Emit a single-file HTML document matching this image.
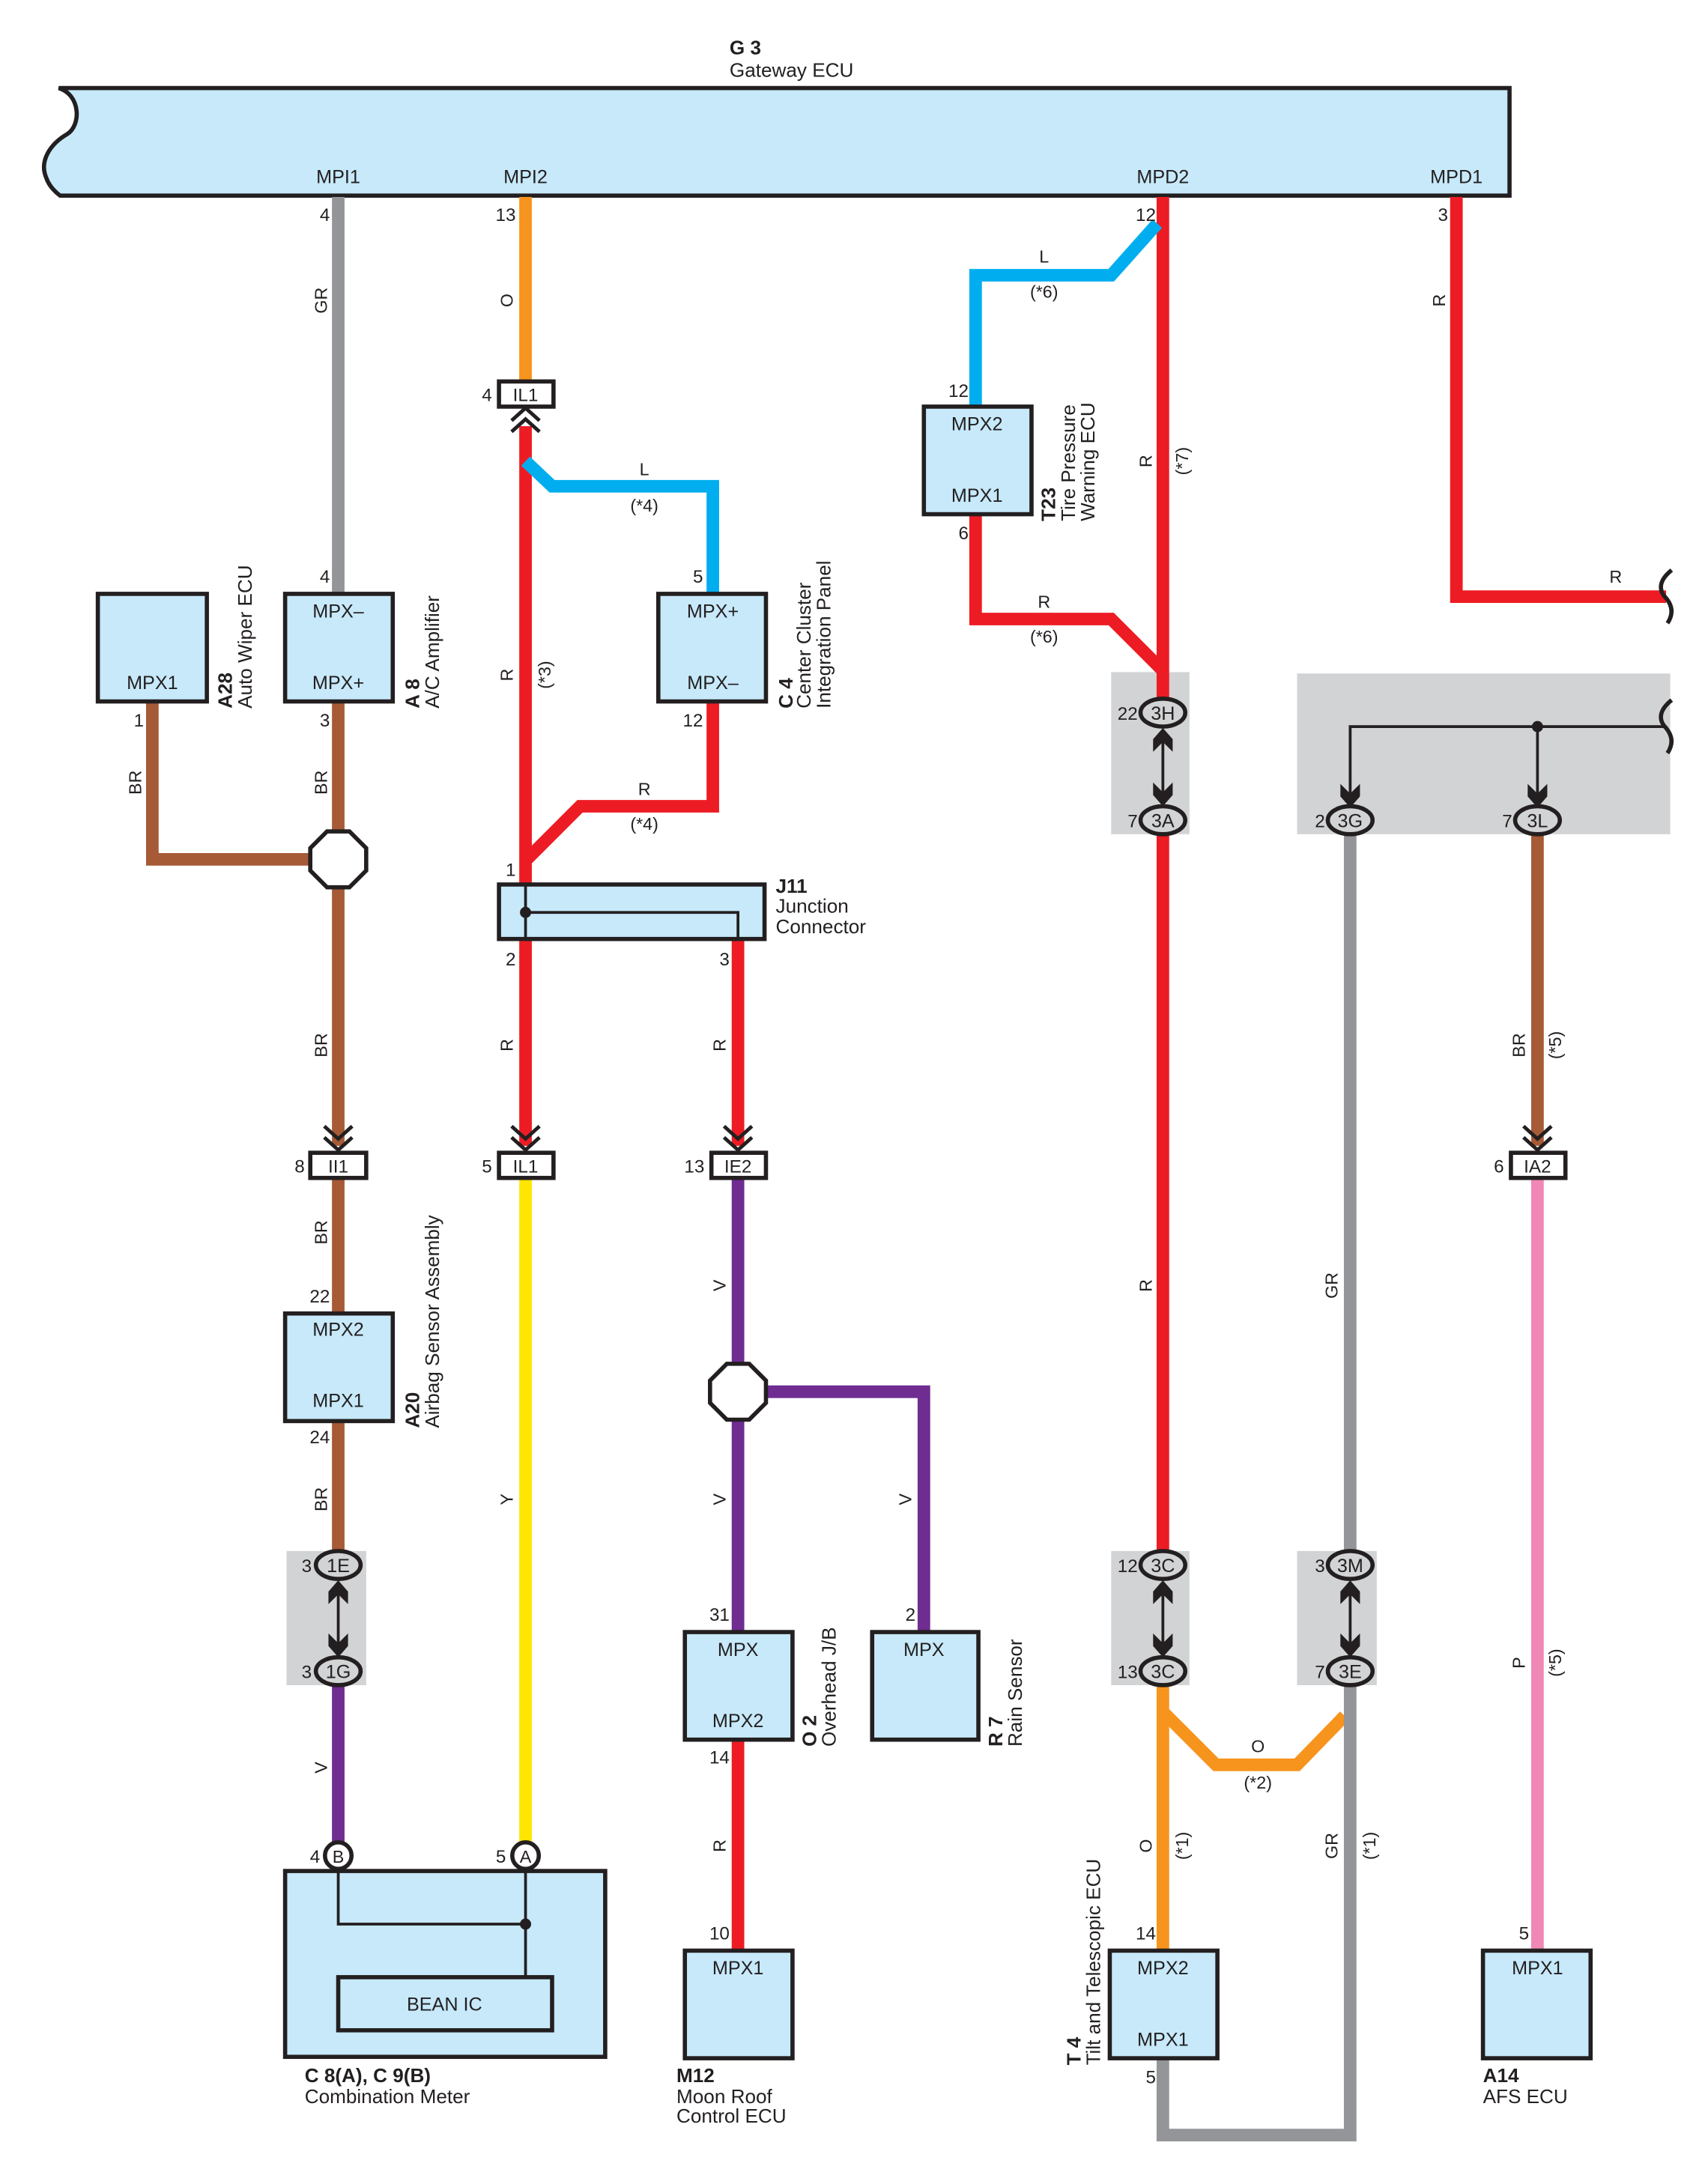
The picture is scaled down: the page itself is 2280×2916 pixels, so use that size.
<!DOCTYPE html>
<html><head><meta charset="utf-8"><style>
html,body{margin:0;padding:0;background:#fff}
svg{display:block}
text{font-family:"Liberation Sans",Arial,sans-serif;fill:#231f20}
.p{font-size:13px}
.c{font-size:13.5px;text-anchor:middle}
.w{font-size:12.5px;text-anchor:middle}
.b{font-weight:bold;font-size:14px}
.n{font-size:14px}
.box{fill:#c7e9fa;stroke:#231f20;stroke-width:3}
.wire{fill:none;stroke-width:9;stroke-linejoin:miter;stroke-linecap:butt}
.ov{fill:#d1d3d4;stroke:#231f20;stroke-width:3}
.gb{fill:#d1d3d4}
.chev{fill:none;stroke:#231f20;stroke-width:2.6}
</style></head><body>
<svg width="2280" height="2916" viewBox="0 0 1222 1563" preserveAspectRatio="none" xmlns="http://www.w3.org/2000/svg">
<defs>
<g id="up"><polygon points="0,0 7,8 7,17 0,10 -7,17 -7,8" fill="#231f20"/></g>
<g id="dn"><polygon points="0,0 7,-8 7,-17 0,-10 -7,-17 -7,-8" fill="#231f20"/></g>
<g id="chd"><polyline class="chev" points="-10,-16 0,-7 10,-16"/><polyline class="chev" points="-10,-8 0,1 10,-8"/></g>
<g id="chu"><polyline class="chev" points="-10,16 0,7 10,16"/><polyline class="chev" points="-10,8 0,-1 10,8"/></g>
</defs>

<!-- gray backgrounds -->
<rect class="gb" x="205" y="1110" width="57" height="96"/>
<rect class="gb" x="795" y="481" width="56" height="116"/>
<rect class="gb" x="795" y="1110" width="56" height="96"/>
<rect class="gb" x="928" y="1110" width="57" height="96"/>
<rect class="gb" x="928" y="482" width="267" height="115"/>

<!-- Gateway -->
<path d="M1080,63 L42,63 C58,68 58,90 48,96 C36,103 28,115 33,127 C35,133 39,137 43,140 L1080,140 Z" class="box"/>
<text class="b" x="522" y="39">G 3</text>
<text class="n" x="522" y="55">Gateway ECU</text>
<text class="c" x="242" y="131">MPI1</text>
<text class="c" x="376" y="131">MPI2</text>
<text class="c" x="832" y="131">MPD2</text>
<text class="c" x="1042" y="131">MPD1</text>

<!-- wires -->
<path class="wire" stroke="#939598" d="M242,141 V425"/>
<path class="wire" stroke="#a65a36" d="M109,502 V615 H225"/>
<path class="wire" stroke="#a65a36" d="M242,502 V820"/>
<path class="wire" stroke="#a65a36" d="M242,843 V940"/>
<path class="wire" stroke="#a65a36" d="M242,1017 V1110"/>
<path class="wire" stroke="#6f2c91" d="M242,1206 V1320"/>
<path class="wire" stroke="#f7941d" d="M376,141 V273"/>
<path class="wire" stroke="#ed1c24" d="M376,305 V633"/>
<path class="wire" stroke="#00aeef" d="M376,330 L395,348 H510 V425"/>
<path class="wire" stroke="#ed1c24" d="M510,502 V577 H415 L376,616"/>
<path class="wire" stroke="#ed1c24" d="M376,672 V820"/>
<path class="wire" stroke="#ed1c24" d="M528,672 V820"/>
<path class="wire" stroke="#ffe600" d="M376,843 V1320"/>
<path class="wire" stroke="#6f2c91" d="M528,843 V1168"/>
<path class="wire" stroke="#6f2c91" d="M545,996 H661 V1168"/>
<path class="wire" stroke="#ed1c24" d="M528,1245 V1396"/>
<path class="wire" stroke="#ed1c24" d="M832,141 V500"/>
<path class="wire" stroke="#00aeef" d="M828,160 L795,197 H698 V291"/>
<path class="wire" stroke="#ed1c24" d="M698,368 V443 H795 L832,480"/>
<path class="wire" stroke="#ed1c24" d="M832,597 V1110"/>
<path class="wire" stroke="#f7941d" d="M832,1206 V1396"/>
<path class="wire" stroke="#f7941d" d="M832,1225 L870,1263 H928 L962,1228"/>
<path class="wire" stroke="#939598" stroke-linejoin="round" d="M832,1473 V1528 H966 V1206"/>
<path class="wire" stroke="#939598" d="M966,597 V1110"/>
<path class="wire" stroke="#ed1c24" d="M1042,141 V427 H1192"/>
<path class="wire" stroke="#a65a36" d="M1100,597 V820"/>
<path class="wire" stroke="#f088b6" d="M1100,843 V1396"/>

<!-- wavy ends -->
<path d="M1196,408 C1186,416 1187,423 1192,428 C1197,434 1197,440 1193,446" fill="none" stroke="#231f20" stroke-width="3"/>
<path d="M1196,501 C1186,509 1187,516 1192,521 C1197,527 1197,533 1193,539" fill="none" stroke="#231f20" stroke-width="3"/>

<!-- inner black circuit in gray box -->
<path d="M966,573 V520 H1192 M1100,520 V573" fill="none" stroke="#231f20" stroke-width="2"/>
<circle cx="1100" cy="520" r="4" fill="#231f20"/>
<use href="#dn" x="966" y="578"/>
<use href="#dn" x="1100" y="578"/>

<!-- boxes -->
<rect class="box" x="70" y="425" width="78" height="77"/>
<text class="c" x="109" y="493">MPX1</text>
<text class="b" transform="translate(166,507) rotate(-90)">A28</text>
<text class="n" transform="translate(180,507) rotate(-90)">Auto Wiper ECU</text>

<rect class="box" x="204" y="425" width="77" height="77"/>
<text class="c" x="242" y="442">MPX–</text>
<text class="c" x="242" y="493">MPX+</text>
<text class="b" transform="translate(300,507) rotate(-90)">A 8</text>
<text class="n" transform="translate(314,507) rotate(-90)">A/C Amplifier</text>

<rect class="box" x="471" y="425" width="77" height="77"/>
<text class="c" x="510" y="442">MPX+</text>
<text class="c" x="510" y="493">MPX–</text>
<text class="b" transform="translate(567,507) rotate(-90)">C 4</text>
<text class="n" transform="translate(580,507) rotate(-90)">Center Cluster</text>
<text class="n" transform="translate(594,507) rotate(-90)">Integration Panel</text>

<rect class="box" x="661" y="291" width="77" height="77"/>
<text class="c" x="699" y="308">MPX2</text>
<text class="c" x="699" y="359">MPX1</text>
<text class="b" transform="translate(755,373) rotate(-90)">T23</text>
<text class="n" transform="translate(769,373) rotate(-90)">Tire Pressure</text>
<text class="n" transform="translate(783,373) rotate(-90)">Warning ECU</text>

<rect class="box" x="204" y="940" width="77" height="77"/>
<text class="c" x="242" y="956">MPX2</text>
<text class="c" x="242" y="1007">MPX1</text>
<text class="b" transform="translate(300,1022) rotate(-90)">A20</text>
<text class="n" transform="translate(314,1022) rotate(-90)">Airbag Sensor Assembly</text>

<!-- J11 -->
<rect class="box" x="357" y="633" width="190" height="39"/>
<path d="M376,633 V672 M376,653 H528 V672" fill="none" stroke="#231f20" stroke-width="2"/>
<circle cx="376" cy="653" r="4" fill="#231f20"/>
<text class="b" x="555" y="639">J11</text>
<text class="n" x="555" y="653">Junction</text>
<text class="n" x="555" y="668">Connector</text>

<rect class="box" x="490" y="1168" width="77" height="77"/>
<text class="c" x="528" y="1185">MPX</text>
<text class="c" x="528" y="1236">MPX2</text>
<text class="b" transform="translate(584,1250) rotate(-90)">O 2</text>
<text class="n" transform="translate(598,1250) rotate(-90)">Overhead J/B</text>

<rect class="box" x="624" y="1168" width="76" height="77"/>
<text class="c" x="661" y="1185">MPX</text>
<text class="b" transform="translate(717,1250) rotate(-90)">R 7</text>
<text class="n" transform="translate(731,1250) rotate(-90)">Rain Sensor</text>

<rect class="box" x="490" y="1396" width="77" height="77"/>
<text class="c" x="528" y="1413">MPX1</text>
<text class="b" x="484" y="1490">M12</text>
<text class="n" x="484" y="1505">Moon Roof</text>
<text class="n" x="484" y="1519">Control ECU</text>

<rect class="box" x="794" y="1396" width="77" height="77"/>
<text class="c" x="832" y="1413">MPX2</text>
<text class="c" x="832" y="1464">MPX1</text>
<text class="b" transform="translate(773,1478) rotate(-90)">T 4</text>
<text class="n" transform="translate(787,1478) rotate(-90)">Tilt and Telescopic ECU</text>

<rect class="box" x="1061" y="1396" width="77" height="77"/>
<text class="c" x="1100" y="1413">MPX1</text>
<text class="b" x="1061" y="1490">A14</text>
<text class="n" x="1061" y="1505">AFS ECU</text>

<!-- Combination meter -->
<rect class="box" x="204" y="1339" width="229" height="133"/>
<path d="M242,1337 V1377 H376 M376,1337 V1415" fill="none" stroke="#231f20" stroke-width="2"/>
<circle cx="376" cy="1377" r="4" fill="#231f20"/>
<rect class="box" x="242" y="1415" width="153" height="38"/>
<text class="c" x="318" y="1439">BEAN IC</text>
<text class="b" x="218" y="1490">C 8(A), C 9(B)</text>
<text class="n" x="218" y="1505">Combination Meter</text>
<circle cx="242" cy="1328" r="9.5" fill="#fff" stroke="#231f20" stroke-width="3"/>
<text class="c" x="242" y="1333" style="font-size:12.5px">B</text>
<circle cx="376" cy="1328" r="9.5" fill="#fff" stroke="#231f20" stroke-width="3"/>
<text class="c" x="376" y="1333" style="font-size:12.5px">A</text>

<!-- octagons -->
<polygon points="234,595 250,595 262,607 262,623 250,635 234,635 222,623 222,607" fill="#fff" stroke="#231f20" stroke-width="3"/>
<polygon points="520,976 536,976 548,988 548,1004 536,1016 520,1016 508,1004 508,988" fill="#fff" stroke="#231f20" stroke-width="3"/>

<!-- inline connectors -->
<rect x="357" y="273" width="39" height="18" fill="#fff" stroke="#231f20" stroke-width="3"/>
<text class="c" x="376" y="287" style="font-size:13px">IL1</text>
<use href="#chu" x="376" y="293"/>
<rect x="222" y="825" width="40" height="18" fill="#fff" stroke="#231f20" stroke-width="3"/>
<text class="c" x="242" y="839" style="font-size:13px">II1</text>
<use href="#chd" x="242" y="822"/>
<rect x="357" y="825" width="39" height="18" fill="#fff" stroke="#231f20" stroke-width="3"/>
<text class="c" x="376" y="839" style="font-size:13px">IL1</text>
<use href="#chd" x="376" y="822"/>
<rect x="509" y="825" width="39" height="18" fill="#fff" stroke="#231f20" stroke-width="3"/>
<text class="c" x="528" y="839" style="font-size:13px">IE2</text>
<use href="#chd" x="528" y="822"/>
<rect x="1081" y="825" width="39" height="18" fill="#fff" stroke="#231f20" stroke-width="3"/>
<text class="c" x="1100" y="839" style="font-size:13px">IA2</text>
<use href="#chd" x="1100" y="822"/>

<!-- junction ovals -->
<g>
<line x1="242" y1="1135" x2="242" y2="1181" stroke="#231f20" stroke-width="2"/>
<use href="#up" x="242" y="1131"/><use href="#dn" x="242" y="1186"/>
<ellipse class="ov" cx="242" cy="1120" rx="16" ry="10"/><text class="c" x="242" y="1125">1E</text>
<ellipse class="ov" cx="242" cy="1196" rx="16" ry="10"/><text class="c" x="242" y="1201">1G</text>

<line x1="832" y1="525" x2="832" y2="572" stroke="#231f20" stroke-width="2"/>
<use href="#up" x="832" y="521"/><use href="#dn" x="832" y="577"/>
<ellipse class="ov" cx="832" cy="510" rx="16" ry="10"/><text class="c" x="832" y="515">3H</text>
<ellipse class="ov" cx="832" cy="587" rx="16" ry="10"/><text class="c" x="832" y="592">3A</text>

<line x1="832" y1="1135" x2="832" y2="1181" stroke="#231f20" stroke-width="2"/>
<use href="#up" x="832" y="1131"/><use href="#dn" x="832" y="1186"/>
<ellipse class="ov" cx="832" cy="1120" rx="16" ry="10"/><text class="c" x="832" y="1125">3C</text>
<ellipse class="ov" cx="832" cy="1196" rx="16" ry="10"/><text class="c" x="832" y="1201">3C</text>

<line x1="966" y1="1135" x2="966" y2="1181" stroke="#231f20" stroke-width="2"/>
<use href="#up" x="966" y="1131"/><use href="#dn" x="966" y="1186"/>
<ellipse class="ov" cx="966" cy="1120" rx="16" ry="10"/><text class="c" x="966" y="1125">3M</text>
<ellipse class="ov" cx="966" cy="1196" rx="16" ry="10"/><text class="c" x="966" y="1201">3E</text>

<ellipse class="ov" cx="966" cy="587" rx="16" ry="10"/><text class="c" x="966" y="592">3G</text>
<ellipse class="ov" cx="1100" cy="587" rx="16" ry="10"/><text class="c" x="1100" y="592">3L</text>
</g>

<!-- pin numbers -->
<g class="p" style="text-anchor:end">
<text x="236" y="158">4</text><text x="369" y="158">13</text><text x="827" y="158">12</text><text x="1036" y="158">3</text>
<text x="236" y="417">4</text><text x="503" y="417">5</text><text x="693" y="284">12</text>
<text x="103" y="520">1</text><text x="236" y="520">3</text><text x="503" y="520">12</text><text x="693" y="386">6</text>
<text x="352" y="287">4</text><text x="369" y="627">1</text><text x="369" y="691">2</text><text x="522" y="691">3</text>
<text x="218" y="839">8</text><text x="352" y="839">5</text><text x="504" y="839">13</text><text x="1076" y="839">6</text>
<text x="236" y="932">22</text><text x="236" y="1033">24</text>
<text x="223" y="1125">3</text><text x="223" y="1201">3</text>
<text x="814" y="515">22</text><text x="814" y="592">7</text>
<text x="948" y="592">2</text><text x="1082" y="592">7</text>
<text x="814" y="1125">12</text><text x="814" y="1201">13</text>
<text x="948" y="1125">3</text><text x="948" y="1201">7</text>
<text x="522" y="1160">31</text><text x="655" y="1160">2</text><text x="522" y="1262">14</text><text x="522" y="1388">10</text>
<text x="827" y="1388">14</text><text x="827" y="1491">5</text><text x="1094" y="1388">5</text>
<text x="229" y="1333">4</text><text x="362" y="1333">5</text>
</g>

<!-- wire color labels (rotated) -->
<g class="w">
<text transform="translate(234,215) rotate(-90)">GR</text>
<text transform="translate(367,215) rotate(-90)">O</text>
<text transform="translate(101,560) rotate(-90)">BR</text>
<text transform="translate(234,560) rotate(-90)">BR</text>
<text transform="translate(234,748) rotate(-90)">BR</text>
<text transform="translate(234,882) rotate(-90)">BR</text>
<text transform="translate(234,1073) rotate(-90)">BR</text>
<text transform="translate(234,1265) rotate(-90)">V</text>
<text transform="translate(367,483) rotate(-90)">R</text>
<text transform="translate(394,483) rotate(-90)">(*3)</text>
<text transform="translate(367,748) rotate(-90)">R</text>
<text transform="translate(519,748) rotate(-90)">R</text>
<text transform="translate(367,1073) rotate(-90)">Y</text>
<text transform="translate(519,920) rotate(-90)">V</text>
<text transform="translate(519,1073) rotate(-90)">V</text>
<text transform="translate(652,1073) rotate(-90)">V</text>
<text transform="translate(519,1321) rotate(-90)">R</text>
<text transform="translate(824,330) rotate(-90)">R</text>
<text transform="translate(850,330) rotate(-90)">(*7)</text>
<text transform="translate(824,920) rotate(-90)">R</text>
<text transform="translate(824,1321) rotate(-90)">O</text>
<text transform="translate(850,1321) rotate(-90)">(*1)</text>
<text transform="translate(957,920) rotate(-90)">GR</text>
<text transform="translate(957,1321) rotate(-90)">GR</text>
<text transform="translate(984,1321) rotate(-90)">(*1)</text>
<text transform="translate(1034,215) rotate(-90)">R</text>
<text transform="translate(1091,748) rotate(-90)">BR</text>
<text transform="translate(1117,748) rotate(-90)">(*5)</text>
<text transform="translate(1091,1190) rotate(-90)">P</text>
<text transform="translate(1117,1190) rotate(-90)">(*5)</text>
<text x="461" y="340">L</text><text x="461" y="366">(*4)</text>
<text x="461" y="569">R</text><text x="461" y="594">(*4)</text>
<text x="747" y="188">L</text><text x="747" y="213">(*6)</text>
<text x="747" y="435">R</text><text x="747" y="460">(*6)</text>
<text x="900" y="1254">O</text><text x="900" y="1280">(*2)</text>
<text x="1156" y="417">R</text>
</g>
</svg>
</body></html>
